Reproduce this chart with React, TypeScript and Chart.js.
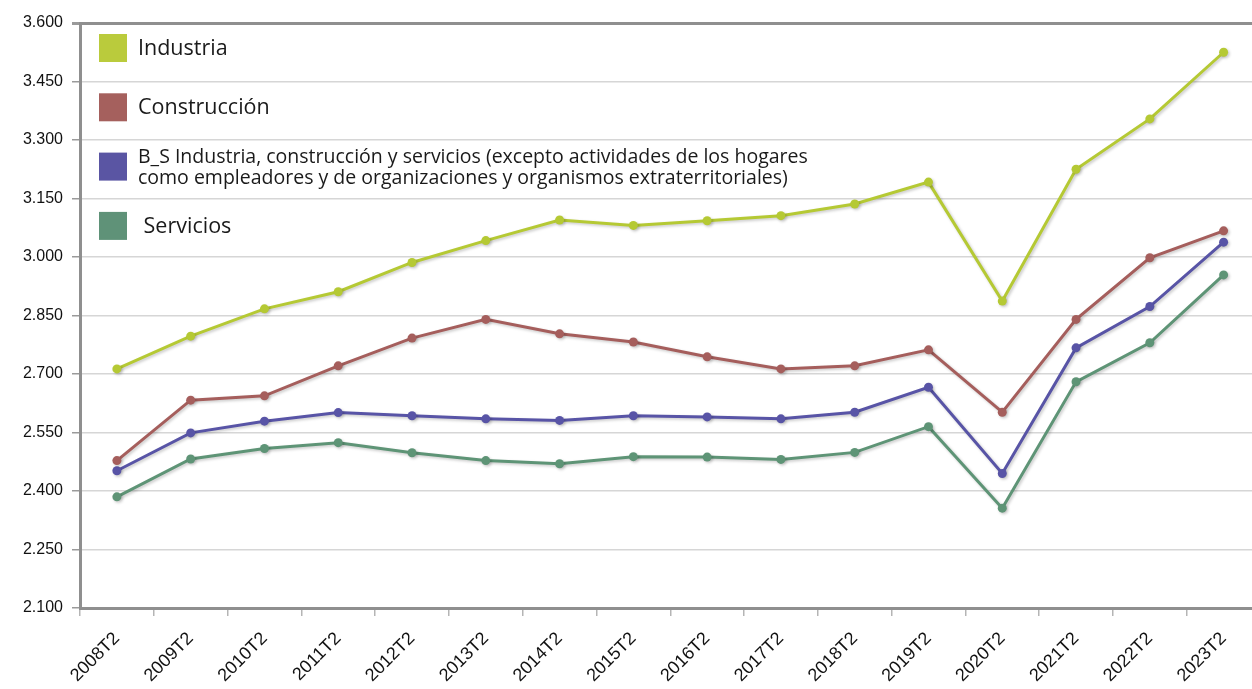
import React, { useEffect, useRef } from "react";
import { Chart, registerables } from "chart.js";

Chart.register(...registerables);

const categories = [
  "2008T2", "2009T2", "2010T2", "2011T2", "2012T2", "2013T2", "2014T2", "2015T2",
  "2016T2", "2017T2", "2018T2", "2019T2", "2020T2", "2021T2", "2022T2", "2023T2",
];

const industria = [2713, 2797, 2867, 2911, 2986, 3042, 3095, 3081, 3093, 3106, 3136, 3192, 2887, 3225, 3354, 3525];
const construccion = [2478, 2633, 2644, 2721, 2792, 2840, 2803, 2782, 2744, 2713, 2721, 2762, 2602, 2840, 2998, 3067];
const bsTotal = [2452, 2549, 2579, 2601, 2593, 2585, 2581, 2593, 2590, 2585, 2602, 2666, 2445, 2767, 2873, 3038];
const servicios = [2385, 2482, 2509, 2524, 2498, 2478, 2470, 2488, 2487, 2481, 2499, 2565, 2356, 2680, 2780, 2954];

const seriesLabels = [
  ["Industria"],
  ["Construcción"],
  [
    "B_S Industria, construcción y servicios (excepto actividades de los hogares",
    "como empleadores y de organizaciones y organismos extraterritoriales)",
  ],
  [" Servicios"],
];

const yMin = 2100;
const yMax = 3600;
const yStep = 150;

const lineColors = ["#b5c934", "#a55e5c", "#5854a6", "#5e9476"];
const swatchColors = ["#bacb3c", "#a5605d", "#5a55a3", "#5f9278"];

const fmt = (v: number) => String(v).replace(/\B(?=(\d{3})+(?!\d))/g, ".");

const shadowPlugin = {
  id: "lineShadow",
  beforeDatasetsDraw(chart: any) {
    const ctx = chart.ctx;
    ctx.save();
    ctx.shadowColor = "rgba(0,0,0,0.22)";
    ctx.shadowBlur = 3;
    ctx.shadowOffsetX = 1.5;
    ctx.shadowOffsetY = 1.5;
  },
  afterDatasetsDraw(chart: any) {
    chart.ctx.restore();
  },
};

const legendPlugin = {
  id: "innerLegend",
  afterDraw(chart: any) {
    const ctx = chart.ctx;
    const area = chart.chartArea;
    const x0 = area.left + 19;
    const box = 28;
    ctx.save();
    chart.data.datasets.forEach((ds: any, i: number) => {
      const cy = area.top + 25 + i * 59.3;
      ctx.fillStyle = ds.swatch;
      ctx.fillRect(x0, cy - box / 2, box, box);
      const lines: string[] = ds.legendLines;
      ctx.fillStyle = "#1a1a1a";
      ctx.textBaseline = "middle";
      ctx.textAlign = "left";
      if (lines.length === 1) {
        ctx.font = "21.5px 'Open Sans'";
        ctx.fillText(lines[0], x0 + box + 11, cy + 1);
      } else {
        ctx.font = "19.5px 'Open Sans'";
        ctx.fillText(lines[0], x0 + box + 11, cy - 9);
        ctx.fillText(lines[1], x0 + box + 11, cy + 12);
      }
    });
    ctx.restore();
  },
};

export default function App() {
  const canvasRef = useRef<HTMLCanvasElement | null>(null);

  useEffect(() => {
    if (!canvasRef.current) return;
    const seriesValues = [industria, construccion, bsTotal, servicios];
    const chart = new Chart(canvasRef.current, {
      type: "line",
      data: {
        labels: categories,
        datasets: seriesValues.map((vals, i) => ({
          label: seriesLabels[i].join(" ").trim(),
          legendLines: seriesLabels[i],
          swatch: swatchColors[i],
          data: vals,
          borderColor: lineColors[i],
          backgroundColor: lineColors[i],
          borderWidth: 3,
          pointRadius: 4.5,
          pointBorderWidth: 0,
          pointBackgroundColor: lineColors[i],
          tension: 0,
          fill: false,
        })) as any,
      },
      options: {
        animation: false,
        responsive: true,
        maintainAspectRatio: false,
        layout: { padding: { top: 23, left: 0, right: 0, bottom: 0 } },
        plugins: {
          legend: { display: false },
          title: { display: false },
          tooltip: { enabled: false },
        },
        scales: {
          x: {
            type: "category",
            offset: true,
            grid: {
              display: true,
              drawOnChartArea: false,
              drawTicks: true,
              tickLength: 8,
              tickColor: "#b5b5b5",
              offset: true,
              lineWidth: 1.5,
            },
            border: { display: true, color: "#8f8f8f", width: 3 },
            ticks: {
              autoSkip: false,
              minRotation: 45,
              maxRotation: 45,
              color: "#111",
              padding: 12,
              font: { family: "'Liberation Sans', Arial, sans-serif", size: 18 },
            },
            afterFit: (s: any) => {
              s.height = 81;
            },
          },
          y: {
            min: yMin,
            max: yMax,
            grid: {
              color: (c: any) => (c.tick && c.tick.value === yMax ? "#8f8f8f" : "#d6d6d6"),
              lineWidth: (c: any) => (c.tick && c.tick.value === yMax ? 3 : 1.5),
              drawTicks: true,
              tickLength: 8,
              tickColor: "#9a9a9a",
            },
            border: { display: true, color: "#8f8f8f", width: 3 },
            ticks: {
              stepSize: yStep,
              color: "#111",
              padding: 9,
              font: { family: "'Liberation Sans', Arial, sans-serif", size: 16 },
              callback: (v: any) => fmt(Number(v)),
            },
            afterFit: (s: any) => {
              s.width = 80;
            },
          },
        },
      } as any,
      plugins: [shadowPlugin, legendPlugin],
    });
    return () => chart.destroy();
  }, []);

  return (
    <div
      style={{
        position: "fixed",
        left: 0,
        top: 0,
        width: "1252px",
        height: "689px",
        overflow: "hidden",
        background: "#fff",
      }}
    >
      <div style={{ position: "relative", width: "1265px", height: "689px" }}>
        <canvas ref={canvasRef} />
      </div>
    </div>
  );
}
